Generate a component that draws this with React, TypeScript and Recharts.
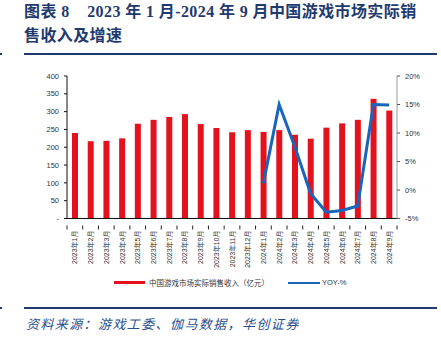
import { ComposedChart, Bar, Line, XAxis, YAxis } from 'recharts'

const months = [
  '2023年1月', '2023年2月', '2023年3月', '2023年4月', '2023年5月', '2023年6月',
  '2023年7月', '2023年8月', '2023年9月', '2023年10月', '2023年11月', '2023年12月',
  '2024年1月', '2024年2月', '2024年3月', '2024年4月', '2024年5月', '2024年6月',
  '2024年7月', '2024年8月', '2024年9月',
]
const revenue = [240, 217, 218, 225, 266, 277, 285, 293, 265, 254, 242, 248, 243, 248, 235, 224, 255, 267, 277, 336, 303]
const yoy = [null, null, null, null, null, null, null, null, null, null, null, null, 1.2, 15.0, 7.6, -0.6, -3.9, -3.6, -2.8, 15.0, 14.9]
const leftTicks = [0, 50, 100, 150, 200, 250, 300, 350, 400]
const rightTicks = [-5, 0, 5, 10, 15, 20]

const RED = '#e3121c'
const BLUE = '#1765bd'
const NAVY = '#1f3a6e'

const data = months.map((m, i) => ({ month: m, revenue: revenue[i], yoy: yoy[i] }))

const BAND = 330 / months.length

function MonthTick(props: any) {
  const { x, y, payload, index } = props
  const left = x - BAND / 2
  return (
    <g>
      <line x1={left} y1={y - 1} x2={left} y2={y + 3} stroke="#222" strokeWidth={1} />
      {index === months.length - 1 && (
        <line x1={left + BAND} y1={y - 1} x2={left + BAND} y2={y + 3} stroke="#222" strokeWidth={1} />
      )}
      <text
        x={x}
        y={y + 4}
        transform={`rotate(-90, ${x}, ${y + 4})`}
        textAnchor="end"
        dominantBaseline="central"
        fontSize={7}
        fill="#333"
        fontFamily="'Liberation Sans', 'Noto Sans CJK SC', sans-serif"
      >
        {payload.value}
      </text>
    </g>
  )
}

export default function App() {
  return (
    <div
      style={{
        position: 'fixed',
        left: 0,
        top: 0,
        width: 441,
        height: 338,
        background: '#fff',
        overflow: 'hidden',
        fontFamily: "'Noto Sans CJK SC', sans-serif",
      }}
    >
      <div
        style={{
          position: 'absolute',
          left: 24,
          top: 0,
          color: NAVY,
          fontWeight: 700,
          fontSize: 16,
          lineHeight: '24px',
          letterSpacing: 0.4,
          whiteSpace: 'nowrap',
          fontFamily: "'Liberation Serif', 'Noto Sans CJK SC', serif",
        }}
      >
        <div>图表 8&nbsp;&nbsp;&nbsp;&nbsp;2023 年 1 月-2024 年 9 月中国游戏市场实际销</div>
        <div>售收入及增速</div>
      </div>
      <div style={{ position: 'absolute', left: 24, top: 53, width: 413, height: 1.5, background: NAVY }} />
      <div style={{ position: 'absolute', left: 0, top: 53, width: 1.5, height: 1.5, background: NAVY }} />

      <div style={{ position: 'absolute', left: 0, top: 0 }}>
        <ComposedChart
          width={441}
          height={300}
          data={data}
          margin={{ top: 76, right: 4, bottom: 36.5, left: 37 }}
        >
          <XAxis
            dataKey="month"
            interval={0}
            height={45}
            tickLine={false}
            axisLine={{ stroke: '#111' }}
            tick={<MonthTick />}
          />
          <YAxis
            yAxisId="left"
            width={30}
            domain={[0, 400]}
            ticks={leftTicks}
            tickSize={3}
            tickMargin={5}
            axisLine={{ stroke: '#111' }}
            tickLine={{ stroke: '#111' }}
            tick={{ fontSize: 7.5, fill: '#333', fontFamily: "'Liberation Sans', sans-serif" }}
            tickFormatter={(v: number) => (v === 0 ? '-' : String(v))}
          />
          <YAxis
            yAxisId="right"
            orientation="right"
            width={40}
            domain={[-5, 20]}
            ticks={rightTicks}
            tickSize={3}
            tickMargin={5}
            axisLine={{ stroke: '#999' }}
            tickLine={{ stroke: '#555' }}
            tick={{ fontSize: 7.5, fill: '#333', fontFamily: "'Liberation Sans', sans-serif", textAnchor: 'start' }}
            tickFormatter={(v: number) => `${v}%`}
          />
          <Bar yAxisId="left" dataKey="revenue" fill={RED} barSize={6} isAnimationActive={false} />
          <Line
            yAxisId="right"
            dataKey="yoy"
            stroke={BLUE}
            strokeWidth={3}
            dot={false}
            activeDot={false}
            isAnimationActive={false}
          />
        </ComposedChart>
      </div>

      <div
        style={{
          position: 'absolute',
          left: 114,
          top: 277,
          display: 'flex',
          alignItems: 'center',
          fontSize: 7.5,
          color: '#333',
          whiteSpace: 'nowrap',
        }}
      >
        <span style={{ display: 'inline-block', width: 31, height: 3.5, background: RED, marginRight: 4 }} />
        <span>中国游戏市场实际销售收入（亿元）</span>
        <span style={{ display: 'inline-block', width: 32, height: 2, background: BLUE, marginLeft: 19, marginRight: 2 }} />
        <span style={{ fontFamily: "'Liberation Sans', sans-serif" }}>YOY-%</span>
      </div>

      <div style={{ position: 'absolute', left: 24, top: 307, width: 413, height: 1.5, background: NAVY }} />
      <div style={{ position: 'absolute', left: 0, top: 307, width: 1.5, height: 1.5, background: NAVY }} />
      <div
        style={{
          position: 'absolute',
          left: 26,
          top: 315,
          color: '#2a4f8f',
          fontSize: 13,
          fontStyle: 'italic',
          letterSpacing: 1.4,
          whiteSpace: 'nowrap',
          lineHeight: '18px',
        }}
      >
        资料来源：游戏工委、伽马数据，华创证券
      </div>
    </div>
  )
}
